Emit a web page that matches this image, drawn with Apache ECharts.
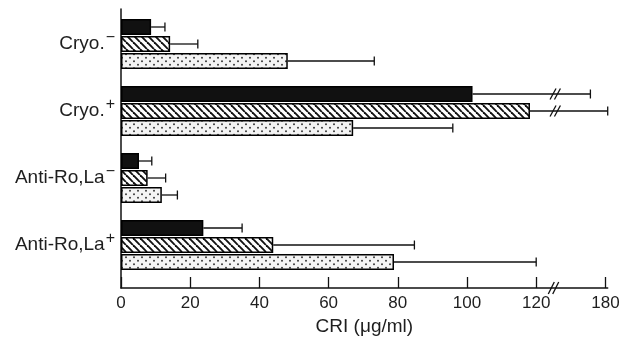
<!DOCTYPE html>
<html><head><meta charset="utf-8">
<script src="https://cdn.jsdelivr.net/npm/echarts@6/dist/echarts.min.js"></script>
<style>html,body{margin:0;padding:0;background:#fff}#c{width:626px;height:345px}</style>
</head><body><div id="c"></div>
<script>
// ---- data (values in µg/ml) ----
const categories = ['Cryo.−', 'Cryo.+', 'Anti-Ro,La−', 'Anti-Ro,La+'];
const blackValues   = [8.7, 101.6, 5.2, 23.8];
const blackUpper    = [12.7, 167, 8.9, 35];
const hatchedValues = [14.2, 118.2, 7.7, 44];
const hatchedUpper  = [22.2, 182, 12.9, 84.8];
const dottedValues  = [48.2, 67.1, 11.8, 78.9];
const dottedUpper   = [73.2, 95.9, 16.3, 120];
const tickValues    = [0, 20, 40, 60, 80, 100, 120, 180];
const breakStart = 120, breakEnd = 180;

// ---- broken-axis transform (120..180 compressed to 20 units) ----
const BREAK_DISPLAY = 20;
function toAxis(v) {
  return v <= breakStart ? v : breakStart + (v - breakStart) * BREAK_DISPLAY / (breakEnd - breakStart);
}
const tickPositions = tickValues.map(toAxis);
const axisMax = toAxis(182);

// ---- layout/style constants ----
const GRID_LEFT = 121, PX_PER_UNIT = 3.46;
const GRID_W = axisMax * PX_PER_UNIT;
const GRID_TOP = 10.5, GRID_H = 268, AXIS_Y = 288;
const BAR_W = 16, BAR_GAP = 1;
const BREAK_MARK_AT = 125.5;
const FONT = 'Liberation Sans';
const TXT = '#1e1e1e';

function hatchPattern() {
  const s = 7, c = document.createElement('canvas');
  c.width = s; c.height = s;
  const g = c.getContext('2d');
  g.fillStyle = '#fff'; g.fillRect(0, 0, s, s);
  g.strokeStyle = '#111'; g.lineWidth = 1.9;
  for (const k of [-s, 0, s]) { g.beginPath(); g.moveTo(k, 0); g.lineTo(k + s, s); g.stroke(); }
  return { image: c, repeat: 'repeat' };
}
function dotPattern() {
  const w = 8, h = 7, c = document.createElement('canvas');
  c.width = w; c.height = h;
  const g = c.getContext('2d');
  g.fillStyle = '#f4f4f4'; g.fillRect(0, 0, w, h);
  g.fillStyle = '#3c3c3c';
  for (const [x, y] of [[2, 1.75], [6, 5.25]]) { g.beginPath(); g.arc(x, y, 1.0, 0, Math.PI * 2); g.fill(); }
  return { image: c, repeat: 'repeat' };
}

const seriesDefs = [
  { name: 'black', values: blackValues, upper: blackUpper, color: '#111' },
  { name: 'hatched', values: hatchedValues, upper: hatchedUpper, color: hatchPattern() },
  { name: 'dotted', values: dottedValues, upper: dottedUpper, color: dotPattern() }
];

const errData = [];
seriesDefs.forEach((sd, s) => {
  sd.values.forEach((v, i) => {
    errData.push([toAxis(v), i, toAxis(sd.upper[i]), s, sd.upper[i] > breakStart ? 1 : 0]);
  });
});

const chart = echarts.init(document.getElementById('c'), null, { renderer: 'canvas' });

const barSeries = seriesDefs.map(sd => ({
  type: 'bar', name: sd.name, xAxisIndex: 0, yAxisIndex: 0,
  data: sd.values.map(toAxis),
  barWidth: BAR_W, barGap: (BAR_GAP / BAR_W * 100) + '%',
  itemStyle: { color: sd.color, borderColor: '#000', borderWidth: 1.5 },
  silent: true, animation: false
}));

const errSeries = {
  type: 'custom', xAxisIndex: 0, yAxisIndex: 0, z: 5,
  dimensions: ['v', 'cat', 'e', 's', 'br'],
  encode: { x: [0, 2], y: 1 },
  data: errData, animation: false, silent: true,
  renderItem: function (params, api) {
    const v = api.value(0), cat = api.value(1), e = api.value(2), s = api.value(3), br = api.value(4);
    const p0 = api.coord([v, cat]), p1 = api.coord([e, cat]);
    const y = p0[1] + (s - 1) * (BAR_W + BAR_GAP);
    const st = { stroke: '#111', lineWidth: 1.3 };
    const ch = [
      { type: 'line', shape: { x1: p0[0], y1: y, x2: p1[0], y2: y }, style: st },
      { type: 'line', shape: { x1: p1[0], y1: y - 4.5, x2: p1[0], y2: y + 4.5 }, style: st }
    ];
    if (br) {
      const bx = api.coord([BREAK_MARK_AT, cat])[0];
      for (const dx of [-2.2, 2.2]) {
        ch.push({ type: 'line', shape: { x1: bx + dx - 3, y1: y + 5.5, x2: bx + dx + 3, y2: y - 5.5 }, style: st });
      }
    }
    return { type: 'group', children: ch };
  }
};

chart.setOption({
  backgroundColor: '#fff',
  animation: false,
  grid: [
    { left: GRID_LEFT, top: GRID_TOP, width: GRID_W, height: GRID_H },
    { left: GRID_LEFT, top: 9, width: GRID_W, height: AXIS_Y - 9 }
  ],
  xAxis: [
    {
      type: 'value', gridIndex: 0, min: 0, max: axisMax, interval: 20,
      offset: AXIS_Y - (GRID_TOP + GRID_H),
      axisLine: { show: true, lineStyle: { color: '#111', width: 1.5 } },
      axisTick: { show: true, inside: true, length: 11, customValues: tickPositions, lineStyle: { color: '#111', width: 1.3 } },
      axisLabel: {
        customValues: tickPositions, margin: 7, color: TXT, fontSize: 17, fontFamily: FONT,
        formatter: v => { const k = tickPositions.findIndex(t => Math.abs(t - v) < 1e-6); return k >= 0 ? String(tickValues[k]) : ''; }
      },
      splitLine: { show: false },
      name: 'CRI (μg/ml)', nameLocation: 'middle', nameGap: 28,
      nameTextStyle: { color: TXT, fontSize: 19, fontFamily: FONT }
    },
    { type: 'value', gridIndex: 1, show: false }
  ],
  yAxis: [
    {
      type: 'category', gridIndex: 0, inverse: true, data: categories,
      axisLine: { show: false }, axisTick: { show: false }, splitLine: { show: false },
      axisLabel: {
        margin: 6, color: TXT, fontSize: 19, fontFamily: FONT,
        formatter: val => val.slice(0, -1) + '{sup|' + val.slice(-1) + '}',
        rich: { sup: { fontSize: 16, fontFamily: FONT, color: TXT, padding: [0, 0, 13, 1] } }
      }
    },
    {
      type: 'value', gridIndex: 1,
      axisLine: { show: true, lineStyle: { color: '#111', width: 1.5 } },
      axisTick: { show: false }, axisLabel: { show: false }, splitLine: { show: false }
    }
  ],
  series: barSeries.concat([errSeries])
});

// axis break "//" on the x axis line
const bx = chart.convertToPixel({ xAxisIndex: 0, yAxisIndex: 0 }, [BREAK_MARK_AT - 0.5, 0])[0];
const marks = [-2.2, 2.2].map(dx => ({
  type: 'line', shape: { x1: bx + dx - 3, y1: AXIS_Y + 6, x2: bx + dx + 3, y2: AXIS_Y - 6 },
  style: { stroke: '#111', lineWidth: 1.3 }, z: 10
}));
chart.setOption({ graphic: marks });
</script>
</body></html>
